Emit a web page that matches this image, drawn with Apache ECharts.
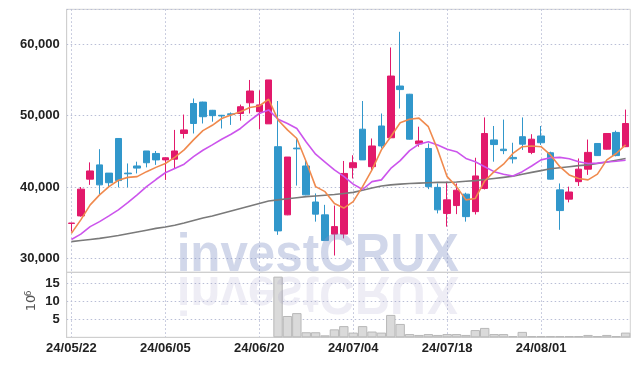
<!DOCTYPE html>
<html><head><meta charset="utf-8">
<script src="https://cdn.jsdelivr.net/npm/echarts@6/dist/echarts.min.js"></script>
<style>html,body{margin:0;padding:0;background:#fff}#c{width:639px;height:366px}</style>
</head><body><div id="c"></div>
<script>
const dates = ['24/05/22','24/05/23','24/05/24','24/05/27','24/05/28','24/05/29','24/05/30','24/05/31','24/06/03','24/06/04',
'24/06/05','24/06/07','24/06/10','24/06/11','24/06/12','24/06/13','24/06/14','24/06/17','24/06/18','24/06/19',
'24/06/20','24/06/21','24/06/24','24/06/25','24/06/26','24/06/27','24/06/28','24/07/01','24/07/02','24/07/03',
'24/07/04','24/07/05','24/07/08','24/07/09','24/07/10','24/07/11','24/07/12','24/07/15','24/07/16','24/07/17',
'24/07/18','24/07/19','24/07/22','24/07/23','24/07/24','24/07/25','24/07/26','24/07/29','24/07/30','24/07/31',
'24/08/01','24/08/02','24/08/05','24/08/06','24/08/07','24/08/08','24/08/09','24/08/12','24/08/13','24/08/14'];
const openP  = [34900,35950,41100,43100,41950,46800,41950,42950,45050,44700,43800,43900,47500,51700,51900,50750,50050,50250,50300,51800,50550,48850,45650,36100,45450,42950,37900,36100,33400,33400,42700,48100,42850,48550,46900,54150,53000,46050,45400,39950,36300,37400,39000,36550,39800,46600,45300,44150,47050,44850,47150,44800,39600,38300,40750,42500,46100,45300,47650,45650];
const closeP = [34950,39700,42250,40300,40600,40900,41850,42650,43400,43800,44100,45050,48000,48900,49850,50000,49950,50150,51250,53450,51500,55000,33850,44200,45350,38900,36200,32500,34450,41900,43400,43800,45750,45750,55550,53650,46700,46450,40050,36800,38200,39550,35850,41550,47500,45950,45100,43950,46000,46700,46200,41100,36700,39300,42500,44850,44400,47500,44400,48900];
const lowP   = [33750,35850,40300,39000,39950,39950,39950,41900,42750,43100,41000,42650,46800,47500,48900,49150,48200,48700,49300,50300,48100,48850,33300,36050,40200,38850,35150,32450,30400,32800,41200,43800,42400,45400,46850,51000,46650,45650,39700,36300,34450,36200,35150,36150,39650,43550,44600,43300,45200,44600,45900,41050,34000,37850,40150,41700,44350,45250,44300,45600];
const highP  = [34950,40000,43450,45300,41950,46850,43300,43550,45050,45050,44150,48000,50150,52400,51950,50800,50100,50450,51550,55000,53550,55000,52050,44200,46900,43800,39100,37500,37400,43650,44450,52050,46800,50300,59550,61750,53050,48450,46100,40500,40750,40500,39200,44100,49750,48550,49450,46200,49750,47400,48550,44950,40500,40050,44000,46650,46150,47550,47900,50850];
const maShort = [33500,35400,37500,38900,40050,40950,41350,41450,42150,42750,43300,44150,45200,46600,47900,48650,49600,50100,50550,51150,51350,52300,49400,48000,46800,43550,40050,39350,37700,37050,37950,40050,42400,45200,47050,49000,49500,49650,48450,45200,41450,40050,38200,38400,40850,42150,43200,44700,45650,45750,45650,44500,42850,41700,41200,41000,41800,43800,44700,45900];
const maMid = [32650,33400,34450,35150,35950,36800,37800,38900,40050,41050,42000,42600,43200,44250,45150,45900,46700,47400,48200,49300,50300,50800,49500,48900,48200,46300,44600,43500,42400,41500,40400,39650,40750,41000,42600,43700,45100,46000,46350,45900,45300,44950,44000,43550,42850,42150,41800,41550,42150,42950,43800,44100,44150,43950,43550,43300,43350,43500,43600,43750];
const maLong = [32350,32500,32650,32800,33000,33200,33450,33700,33950,34200,34400,34650,34950,35300,35650,35950,36300,36650,37000,37350,37700,38050,38200,38350,38500,38650,38750,38850,38950,39100,39250,39550,39850,40150,40300,40400,40500,40550,40600,40650,40650,40700,40800,40900,41050,41200,41350,41500,41800,42050,42300,42550,42700,42850,43000,43100,43300,43500,43750,44000];
const volumeM = [null,null,null,null,null,null,null,null,null,null,null,null,null,null,null,null,null,null,null,null,null,null,
16.8,5.9,6.7,1.4,1.4,0.55,2.2,3.1,1.3,3.1,1.6,1.3,6.2,3.7,0.9,0.65,0.9,0.65,0.9,0.9,0.65,2.0,2.6,0.9,0.9,0.35,1.5,0.35,0.35,0.35,0.35,0.35,0.35,0.65,0.35,0.65,0.35,1.3];

const ohlc = dates.map((d,i)=>[openP[i], closeP[i], lowP[i], highP[i]]);
const labelFont = {fontFamily:'"Liberation Sans",Arial,sans-serif', fontSize:13, fontWeight:'bold', color:'#222'};
const gridLine = {show:true, lineStyle:{color:'#b9bed6', type:[1.5,2.5], width:1}};
const axisLineStyle = {show:true, lineStyle:{color:'#cfcfcf', width:1}};

const chart = echarts.init(document.getElementById('c'), null, {renderer:'canvas'});
chart.setOption({
  animation:false,
  backgroundColor:'#fff',
  grid:[
    {left:66.7, right:8.7, top:9.3, height:263, show:true, borderColor:'#d3d3d3', borderWidth:1},
    {left:66.7, right:8.7, top:272.3, height:65, show:true, borderColor:'#d3d3d3', borderWidth:1}
  ],
  xAxis:[
    {type:'category', gridIndex:0, data:dates, boundaryGap:true,
     axisLine:axisLineStyle, axisTick:{show:false, interval:9, alignWithLabel:true},
     axisLabel:{show:false, interval:9},
     splitLine:Object.assign({interval:9, alignWithLabel:true}, gridLine)},
    {type:'category', gridIndex:1, data:dates, boundaryGap:true,
     axisLine:axisLineStyle, axisTick:{show:false, interval:9, alignWithLabel:true},
     axisLabel:Object.assign({interval:9, margin:5}, labelFont),
     splitLine:Object.assign({interval:9, alignWithLabel:true}, gridLine)}
  ],
  yAxis:[
    {type:'value', gridIndex:0, min:28050, max:64900, scale:true,
     axisLine:axisLineStyle, axisTick:{show:false},
     axisLabel:Object.assign({margin:7, showMinLabel:false, showMaxLabel:false,
       formatter:v=>v.toLocaleString('en-US')}, labelFont),
     splitLine:gridLine},
    {type:'value', gridIndex:1, min:0, max:18, interval:5,
     axisLine:axisLineStyle, axisTick:{show:false},
     axisLabel:Object.assign({margin:7, showMinLabel:false, showMaxLabel:false}, labelFont),
     splitLine:gridLine}
  ],
  series:[
    {type:'candlestick', xAxisIndex:0, yAxisIndex:0, data:ohlc, barWidth:7,
     itemStyle:{color:'#e2196b', color0:'#3197cb', borderColor:'#e2196b', borderColor0:'#3197cb', borderWidth:1}},
    {type:'line', xAxisIndex:0, yAxisIndex:0, data:maLong, symbol:'none', z:3,
     lineStyle:{color:'#7a7a7a', width:1.6}},
    {type:'line', xAxisIndex:0, yAxisIndex:0, data:maMid, symbol:'none', z:4,
     lineStyle:{color:'#cc55ec', width:1.6}},
    {type:'line', xAxisIndex:0, yAxisIndex:0, data:maShort, symbol:'none', z:5,
     lineStyle:{color:'#f08a4e', width:1.6}},
    {type:'bar', xAxisIndex:1, yAxisIndex:1, data:volumeM, barCategoryGap:'0%',
     itemStyle:{color:'#dadada', borderColor:'#b8b8b8', borderWidth:1}}
  ],
  graphic:[
    {type:'text', x:317.7, y:274.2, scaleX:0.93, z:100, silent:true,
     style:{text:'investCRUX', x:0, y:-17.5, fontSize:53, fontWeight:'bold', fontFamily:'"Liberation Sans",sans-serif',
       fill:'rgba(128,144,196,0.36)', textAlign:'center', textVerticalAlign:'middle', align:'center', verticalAlign:'middle'}},
    {type:'text', x:317.7, y:274.2, scaleX:0.93, scaleY:-1, z:100, silent:true,
     style:{text:'investCRUX', x:0, y:-17.5, fontSize:53, fontWeight:'bold', fontFamily:'"Liberation Sans",sans-serif',
       fill:'rgba(150,145,190,0.16)', textAlign:'center', textVerticalAlign:'middle', align:'center', verticalAlign:'middle'}},
    {type:'text', x:32, y:303, rotation:Math.PI/2, silent:true,
     style:{text:'10', fontSize:13, fontFamily:'"DejaVu Sans",sans-serif', fill:'#555', align:'center', verticalAlign:'middle', textAlign:'center', textVerticalAlign:'middle'}},
    {type:'text', x:28.5, y:293.5, rotation:Math.PI/2, silent:true,
     style:{text:'6', fontSize:9, fontFamily:'"DejaVu Sans",sans-serif', fill:'#555', align:'center', verticalAlign:'middle', textAlign:'center', textVerticalAlign:'middle'}}
  ]
});
</script></body></html>
